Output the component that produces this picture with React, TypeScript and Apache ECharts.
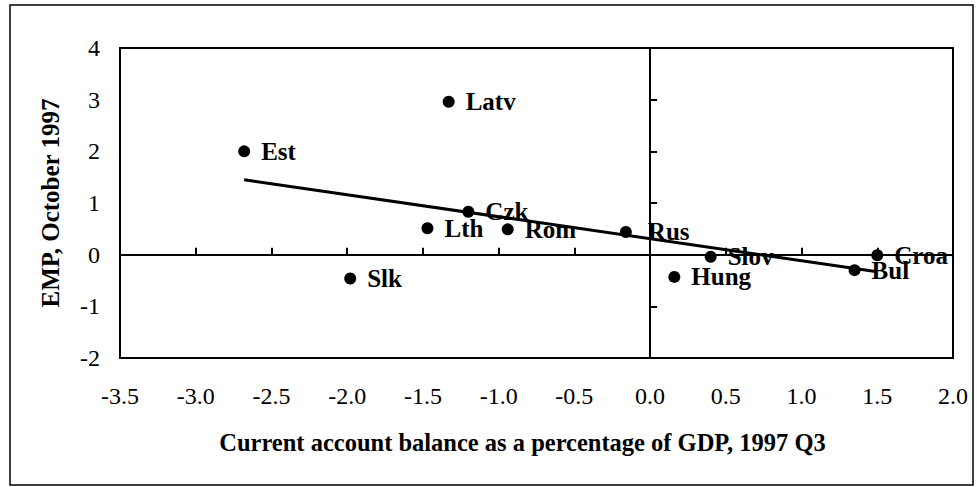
import React, { useEffect, useRef } from "react";
import * as echarts from "echarts";

const countries = ["Est", "Latv", "Czk", "Lth", "Rom", "Rus", "Slk", "Slov", "Hung", "Croa", "Bul"];
const currentAccount = [-2.68, -1.33, -1.2, -1.47, -0.94, -0.16, -1.98, 0.4, 0.16, 1.5, 1.35];
const emp = [2.0, 2.96, 0.83, 0.51, 0.49, 0.44, -0.46, -0.04, -0.43, -0.01, -0.3];
const trendX = [-2.68, 1.5];
const trendY = [1.45, -0.33];
const xTitle = "Current account balance as a percentage of GDP, 1997 Q3";
const yTitle = "EMP, October 1997";

const FONT = "Liberation Serif";

export default function App() {
  const ref = useRef<HTMLDivElement>(null);
  useEffect(() => {
    if (!ref.current) return;
    const chart = echarts.init(ref.current, null, { renderer: "svg" });
    const axisLineStyle = { color: "#000", width: 2 };
    const labelStyle = { fontFamily: FONT, fontSize: 24, color: "#000" };
    const nameStyle = { fontFamily: FONT, fontSize: 25, fontWeight: "bold" as const, color: "#000" };
    chart.setOption({
      animation: false,
      backgroundColor: "#fff",
      textStyle: { fontFamily: FONT },
      grid: {
        left: 120,
        right: 24,
        top: 48,
        bottom: 129,
        show: true,
        borderColor: "#000",
        borderWidth: 2,
        backgroundColor: "transparent",
      },
      xAxis: [
        {
          type: "value",
          position: "bottom",
          min: -3.5,
          max: 2,
          interval: 0.5,
          axisLine: { show: false, onZero: false },
          axisTick: { show: false },
          splitLine: { show: false },
          axisLabel: { ...labelStyle, margin: 26, formatter: (v: number) => v.toFixed(1) },
          name: xTitle,
          nameLocation: "middle",
          nameGap: 72,
          nameTextStyle: { ...nameStyle, fontSize: 24.5, padding: [0, 28, 0, 0] },
        },
        {
          type: "value",
          position: "bottom",
          min: -3.5,
          max: 2,
          interval: 0.5,
          axisLine: { show: true, onZero: true, lineStyle: axisLineStyle },
          axisTick: { show: true, inside: true, length: 7, lineStyle: axisLineStyle },
          splitLine: { show: false },
          axisLabel: { show: false },
        },
      ],
      yAxis: [
        {
          type: "value",
          position: "left",
          min: -2,
          max: 4,
          interval: 1,
          axisLine: { show: false, onZero: false },
          axisTick: { show: false },
          splitLine: { show: false },
          axisLabel: { ...labelStyle, margin: 20 },
          name: yTitle,
          nameLocation: "middle",
          nameRotate: 90,
          nameGap: 57,
          nameTextStyle: nameStyle,
        },
        {
          type: "value",
          position: "left",
          min: -2,
          max: 4,
          interval: 1,
          axisLine: { show: true, onZero: true, lineStyle: axisLineStyle },
          axisTick: { show: true, inside: true, length: 7, lineStyle: axisLineStyle },
          splitLine: { show: false },
          axisLabel: { show: false },
        },
      ],
      graphic: [
        {
          type: "rect",
          shape: { x: 10, y: 5, width: 963, height: 480 },
          style: { fill: "none", stroke: "#000", lineWidth: 1.5 },
          silent: true,
        },
      ],
      series: [
        {
          type: "line",
          xAxisIndex: 0,
          yAxisIndex: 0,
          data: trendX.map((x, i) => [x, trendY[i]]),
          showSymbol: false,
          symbol: "none",
          lineStyle: { color: "#000", width: 3 },
          z: 3,
        },
        {
          type: "scatter",
          xAxisIndex: 0,
          yAxisIndex: 0,
          symbol: "circle",
          symbolSize: 12,
          itemStyle: { color: "#000", opacity: 1 },
          label: {
            show: true,
            position: "right",
            formatter: "{b}",
            fontFamily: FONT,
            fontSize: 25,
            fontWeight: "bold",
            color: "#000",
          },
          data: countries.map((c, i) => ({
            name: c,
            value: [currentAccount[i], emp[i]],
            label: { distance: c === "Rus" ? 16 : 11 },
          })),
          z: 4,
        },
      ],
    });
    return () => chart.dispose();
  }, []);
  return (
    <div
      ref={ref}
      style={{ position: "fixed", left: 0, top: 0, width: 977, height: 487, background: "#fff" }}
    />
  );
}
